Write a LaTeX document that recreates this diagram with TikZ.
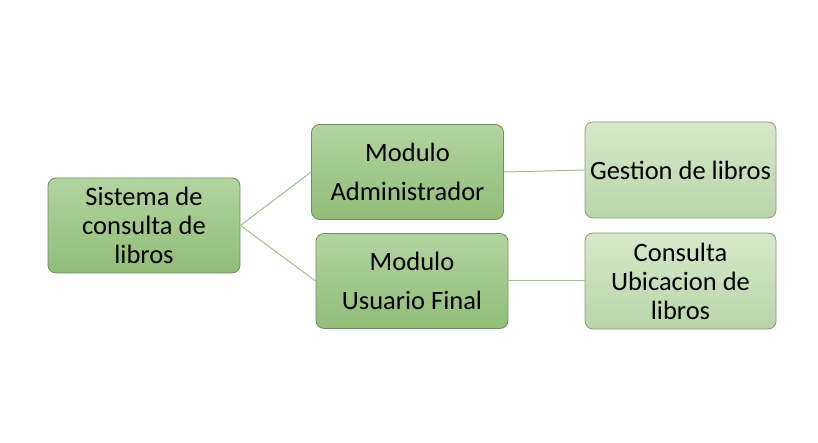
\documentclass[tikz,border=0pt]{standalone}
\usepackage{fontspec}
\setmainfont{Carlito}
\definecolor{darkTop}{HTML}{B3D4A0}
\definecolor{darkBot}{HTML}{8FBD77}
\definecolor{darkLine}{HTML}{6F8F62}
\definecolor{lightTop}{HTML}{D6E9CB}
\definecolor{lightBot}{HTML}{B8D5A8}
\definecolor{lightLine}{HTML}{8C9C84}
\definecolor{conn}{HTML}{9CC286}
\begin{document}
\begin{tikzpicture}[x=1pt,y=-1pt,
  darkbox/.style={draw=darkLine, line width=0.8pt, rounded corners=8pt, top color=darkTop, bottom color=darkBot, minimum width=192pt, minimum height=95pt, align=center, font=\fontsize{26.5}{29}\selectfont, inner sep=0pt},
  lightbox/.style={draw=lightLine, line width=0.8pt, rounded corners=8pt, top color=lightTop, bottom color=lightBot, minimum width=191pt, minimum height=96pt, align=center, font=\fontsize{26.5}{29}\selectfont, inner sep=0pt},
  modbox/.style={darkbox, font=\fontsize{26.5}{39}\selectfont},
  link/.style={draw=conn, line width=1pt}]
\useasboundingbox (0,0) rectangle (818,443);
\fill[white] (0,0) rectangle (818,443);
\node[darkbox] (root) at (144,225.5) {Sistema de\\consulta de\\libros};
\node[modbox] (adm) at (407.5,172) {Modulo\\Administrador};
\node[modbox] (usr) at (412,281) {Modulo\\Usuario Final};
\node[lightbox] (ges) at (680.5,170) {Gestion de libros};
\node[lightbox] (con) at (680.5,281) {Consulta\\Ubicacion de\\libros};
\draw[link] (root.east) -- (adm.west);
\draw[link] (root.east) -- (usr.west);
\draw[link] (adm.east) -- (ges.west);
\draw[link] (usr.east) -- (con.west);
\end{tikzpicture}
\end{document}
